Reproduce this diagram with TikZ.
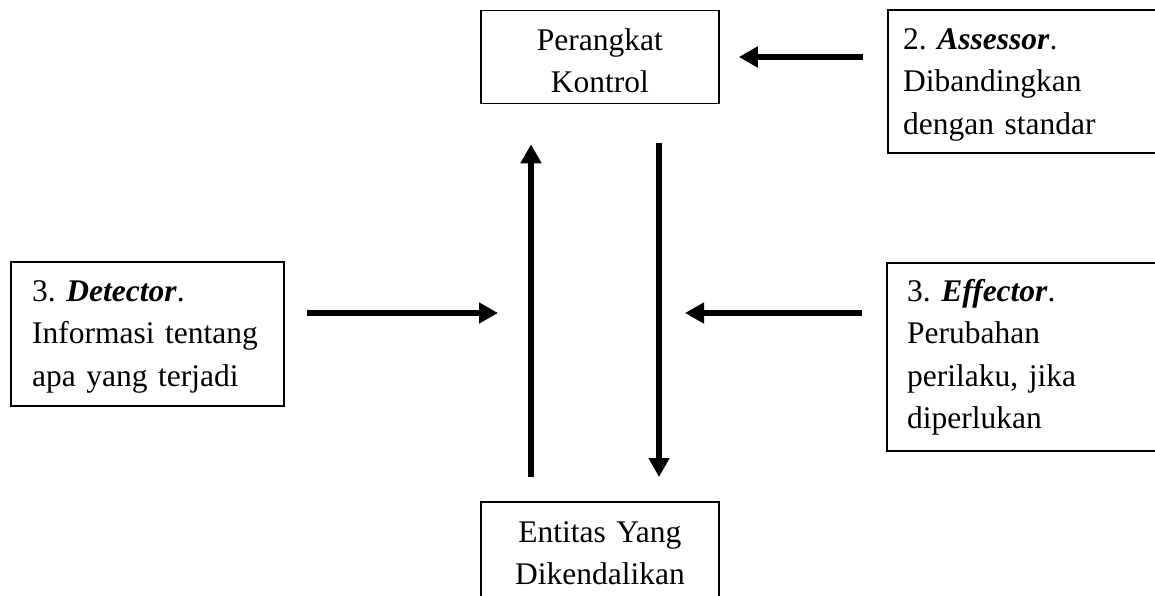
\documentclass[tikz,border=0pt]{standalone}
\usepackage{fontspec}
\setmainfont{Liberation Serif}
\usetikzlibrary{arrows.meta}
\frenchspacing

\tikzset{
  box/.style={draw=black, line width=1.8pt, rectangle, inner sep=0pt, anchor=north west},
  lbl/.style={inner sep=0pt, font=\fontsize{31.5}{42.5}\selectfont},
  flow/.style={line width=6.5pt, -{Triangle[width=20pt,length=19pt]}}
}

\begin{document}
\begin{tikzpicture}[x=1pt, y=-1pt]
  \useasboundingbox (0,0) rectangle (1155,595);
  \clip (0,0) rectangle (1155,595);

  % frames
  \node[box, minimum width=238pt, minimum height=93pt]  (per) at (480,9.5) {};
  \node[box, minimum width=300pt, minimum height=143pt] (ass) at (887,9)   {};
  \node[box, minimum width=273pt, minimum height=144pt] (det) at (10,261)  {};
  \node[box, minimum width=300pt, minimum height=188pt] (eff) at (886,262) {};
  \node[box, minimum width=238pt, minimum height=120pt] (ent) at (480,501) {};

  % texts
  \node[lbl, text width=230pt, align=center, anchor=base] (perT) at (per.north |- 0,50)
    {Perangkat\\Kontrol};
  \node[lbl, text width=260pt, align=left, anchor=base west] (assT) at (903,49)
    {2. \textbf{\textit{Assessor}}.\\Dibandingkan\\dengan standar};
  \node[lbl, text width=260pt, align=left, anchor=base west] (detT) at (32,301)
    {3. \textbf{\textit{Detector}}.\\Informasi tentang\\apa yang terjadi};
  \node[lbl, text width=260pt, align=left, anchor=base west] (effT) at (907,301)
    {3. \textbf{\textit{Effector}}.\\Perubahan\\perilaku, jika\\diperlukan};
  \node[lbl, text width=230pt, align=center, anchor=base] (entT) at (ent.north |- 0,542)
    {Entitas Yang\\Dikendalikan};

  % arrow guides
  \coordinate (upx)  at (531,0);
  \coordinate (dnx)  at (659,0);
  \coordinate (ay)   at (0,57);
  \coordinate (dtip) at (498,313);
  \coordinate (etip) at (685,313);

  % connectors
  \draw[flow, shorten <=24pt, shorten >=19pt] (ass.west |- ay) -- (per.east |- ay);
  \draw[flow, shorten <=24pt, shorten >=40pt] (ent.north -| upx) -- (per.south -| upx);
  \draw[flow, shorten <=39pt, shorten >=24pt] (per.south -| dnx) -- (ent.north -| dnx);
  \draw[flow, shorten <=22pt] (det.east |- dtip) -- (dtip);
  \draw[flow, shorten <=24pt] (eff.west |- etip) -- (etip);
\end{tikzpicture}
\end{document}
